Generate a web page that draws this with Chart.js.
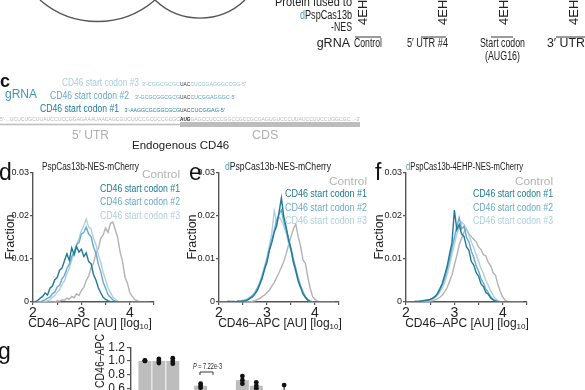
<!DOCTYPE html>
<html>
<head>
<meta charset="utf-8">
<script src="https://cdn.jsdelivr.net/npm/chart.js@4.4.1/dist/chart.umd.min.js"></script>
<style>
  html, body { margin: 0; padding: 0; background: #fff; }
  #fig { position: relative; width: 585px; height: 390px; overflow: hidden; }
  #fig canvas { position: absolute; }
  #art { position: absolute; left: 0; top: 0; }
  .n { font-family: "Liberation Sans Narrow", "Liberation Sans", Arial, sans-serif; }
  .s { font-family: "Liberation Sans", Arial, sans-serif; }
</style>
</head>
<body>
<div id="fig">
  <canvas id="histD" width="166" height="160" style="left:0;top:165px"></canvas>
  <canvas id="histE" width="165" height="160" style="left:186px;top:165px"></canvas>
  <canvas id="histF" width="166" height="160" style="left:373px;top:165px"></canvas>
  <canvas id="barsG" width="230" height="101" style="left:100px;top:338px"></canvas>

  <svg id="art" width="585" height="390" xmlns="http://www.w3.org/2000/svg">
    <!-- leftover circles from the panel above -->
    <path d="M40 0 A87.5 87.5 0 0 0 155 0" fill="none" stroke="#555" stroke-width="1.4"/>
    <path d="M155 0 A65 65 0 0 0 245 0" fill="none" stroke="#555" stroke-width="1.4"/>

    <!-- table header, top right -->
    <g class="n" font-size="12" fill="#222" lengthAdjust="spacingAndGlyphs">
      <text x="352" y="6" text-anchor="end" textLength="77" lengthAdjust="spacingAndGlyphs">Protein fused to</text>
      <text x="352" y="19" text-anchor="end" textLength="52" lengthAdjust="spacingAndGlyphs"><tspan fill="#4ba0c2">d</tspan>PspCas13b</text>
      <text x="352" y="31" text-anchor="end" textLength="21" lengthAdjust="spacingAndGlyphs">-NES</text>
      <text x="354" y="47" textLength="28" lengthAdjust="spacingAndGlyphs">Control</text>
      <text x="407" y="47" textLength="41" lengthAdjust="spacingAndGlyphs">5′ UTR #4</text>
      <text x="480" y="47" textLength="45" lengthAdjust="spacingAndGlyphs">Start codon</text>
      <text x="485" y="60" textLength="35" lengthAdjust="spacingAndGlyphs">(AUG16)</text>
      <text x="547" y="47" textLength="38" lengthAdjust="spacingAndGlyphs">3′ UTR</text>
    </g>
    <g class="s" font-size="13" fill="#222">
      <text transform="translate(367,25) rotate(-90)">4EHP</text>
      <text transform="translate(447,25) rotate(-90)">4EHP</text>
      <text transform="translate(508,25) rotate(-90)">4EHP</text>
      <text transform="translate(578,25) rotate(-90)">4EHP</text>
      <text x="350" y="47" font-size="12.5" text-anchor="end">gRNA</text>
    </g>
    <g stroke="#222" stroke-width="0.9">
      <line x1="355" y1="37" x2="381" y2="37"/>
      <line x1="421" y1="37" x2="446" y2="37"/>
      <line x1="491" y1="37" x2="513" y2="37"/>
      <line x1="556" y1="37" x2="585" y2="37"/>
    </g>

    <!-- panel c -->
    <text class="s" x="0" y="87" font-size="18" font-weight="bold" fill="#111">c</text>
    <text class="s" x="5" y="98" font-size="12" fill="#3d97b8">gRNA</text>
    <text class="n" x="62" y="86" font-size="10.5" fill="#a9cddd" textLength="77" lengthAdjust="spacingAndGlyphs">CD46 start codon #3</text>
    <text class="n" x="50" y="98.5" font-size="10.5" fill="#6aa9c9" textLength="79" lengthAdjust="spacingAndGlyphs">CD46 start codon #2</text>
    <text class="n" x="40" y="111.5" font-size="10.5" fill="#1f7a99" textLength="79" lengthAdjust="spacingAndGlyphs">CD46 start codon #1</text>
    <g class="n" font-size="6">
      <text x="142" y="86" fill="#8fbfd3" textLength="38" lengthAdjust="spacingAndGlyphs">3′-CGGCGCGC</text>
      <text x="180" y="86" fill="#333" textLength="10.4" lengthAdjust="spacingAndGlyphs">UAC</text>
      <text x="190.4" y="86" fill="#8fbfd3" textLength="55.4" lengthAdjust="spacingAndGlyphs">CUCGGAGGGCCGG-5′</text>
      <text x="135" y="98.5" fill="#5a9fc2" textLength="45" lengthAdjust="spacingAndGlyphs">3′-GCGCGGCGCG</text>
      <text x="180" y="98.5" fill="#333" textLength="10.4" lengthAdjust="spacingAndGlyphs">UAC</text>
      <text x="190.4" y="98.5" fill="#5a9fc2" textLength="45" lengthAdjust="spacingAndGlyphs">CUCGGAGGGC-5′</text>
      <text x="124.6" y="111.5" fill="#1f7a99" textLength="55.4" lengthAdjust="spacingAndGlyphs">3′-AAGGCGCGGCGCG</text>
      <text x="180" y="111.5" fill="#333" textLength="10.4" lengthAdjust="spacingAndGlyphs">UAC</text>
      <text x="190.4" y="111.5" fill="#1f7a99" textLength="34.6" lengthAdjust="spacingAndGlyphs">CUCGGAG-5′</text>
      <text x="0" y="121" fill="#b5b5b5" textLength="180" lengthAdjust="spacingAndGlyphs">5′-...UCUCUGCUUAUCCUCCGGAGAAAUAACAGCGUCUUCCGCGCCGCGC</text>
      <text x="180" y="121" fill="#222" font-weight="bold" textLength="10.4" lengthAdjust="spacingAndGlyphs">AUG</text>
      <text x="190.4" y="121" fill="#b5b5b5" textLength="169.6" lengthAdjust="spacingAndGlyphs">GAGCCUCCCGGCCGCCGCGAGUGUCCCUUAUCCUUCCUGGCGC...-3′</text>
    </g>
    <line x1="0" y1="124.5" x2="180" y2="124.5" stroke="#bdbdbd" stroke-width="1.6"/>
    <rect x="180" y="122" width="180" height="5" fill="#bdbdbd"/>
    <text class="s" x="72" y="139" font-size="12" fill="#b0b0b0">5′ UTR</text>
    <text class="s" x="252" y="139" font-size="12.5" fill="#b0b0b0">CDS</text>
    <text class="s" x="132" y="149" font-size="11.5" fill="#222">Endogenous CD46</text>

    <!-- panel letters -->
    <g class="s" font-size="23" fill="#111">
      <text x="-1" y="180">d</text>
      <text x="189" y="180">e</text>
      <text x="375" y="180">f</text>
      <text x="-2" y="359">g</text>
    </g>

    <!-- histogram titles and legends -->
    <g class="n" font-size="10" fill="#222">
      <text x="42" y="170" textLength="97" lengthAdjust="spacingAndGlyphs">PspCas13b-NES-mCherry</text>
      <text x="225" y="170" textLength="106" lengthAdjust="spacingAndGlyphs"><tspan fill="#4ba0c2">d</tspan>PspCas13b-NES-mCherry</text>
      <text x="406" y="170" textLength="117" lengthAdjust="spacingAndGlyphs"><tspan fill="#4ba0c2">d</tspan>PspCas13b-4EHP-NES-mCherry</text>
    </g>
    <g class="n" text-anchor="end">
      <text x="180" y="178" font-size="11.5" fill="#b3b3b3" textLength="38" lengthAdjust="spacingAndGlyphs">Control</text>
      <text x="180" y="192" font-size="10.5" fill="#1f7a99" textLength="80" lengthAdjust="spacingAndGlyphs">CD46 start codon #1</text>
      <text x="180" y="205" font-size="10.5" fill="#6aa9c9" textLength="80" lengthAdjust="spacingAndGlyphs">CD46 start codon #2</text>
      <text x="180" y="219" font-size="10.5" fill="#aed0df" textLength="80" lengthAdjust="spacingAndGlyphs">CD46 start codon #3</text>

      <text x="367" y="185" font-size="11.5" fill="#b3b3b3" textLength="38" lengthAdjust="spacingAndGlyphs">Control</text>
      <text x="367" y="197" font-size="10.5" fill="#1f7a99" textLength="82" lengthAdjust="spacingAndGlyphs">CD46 start codon #1</text>
      <text x="367" y="211" font-size="10.5" fill="#6aa9c9" textLength="82" lengthAdjust="spacingAndGlyphs">CD46 start codon #2</text>
      <text x="367" y="224" font-size="10.5" fill="#aed0df" textLength="82" lengthAdjust="spacingAndGlyphs">CD46 start codon #3</text>

      <text x="553" y="185" font-size="11.5" fill="#b3b3b3" textLength="38" lengthAdjust="spacingAndGlyphs">Control</text>
      <text x="553" y="197" font-size="10.5" fill="#1f7a99" textLength="80" lengthAdjust="spacingAndGlyphs">CD46 start codon #1</text>
      <text x="553" y="211" font-size="10.5" fill="#6aa9c9" textLength="80" lengthAdjust="spacingAndGlyphs">CD46 start codon #2</text>
      <text x="553" y="224" font-size="10.5" fill="#aed0df" textLength="80" lengthAdjust="spacingAndGlyphs">CD46 start codon #3</text>
    </g>

    <!-- axis titles -->
    <g class="s" font-size="12.5" fill="#222" text-anchor="middle">
      <text transform="translate(14,237) rotate(-90)">Fraction</text>
      <text transform="translate(196,237) rotate(-90)">Fraction</text>
      <text transform="translate(383,237) rotate(-90)">Fraction</text>
    </g>
    <g class="s" font-size="12" fill="#222" text-anchor="middle">
      <text x="90" y="327">CD46–APC [AU] [log<tspan font-size="8" dy="2">10</tspan><tspan dy="-2">]</tspan></text>
      <text x="280" y="327">CD46–APC [AU] [log<tspan font-size="8" dy="2">10</tspan><tspan dy="-2">]</tspan></text>
      <text x="467" y="327">CD46–APC [AU] [log<tspan font-size="8" dy="2">10</tspan><tspan dy="-2">]</tspan></text>
    </g>

    <!-- panel g annotations -->
    <text class="n" transform="translate(104,334) rotate(-90)" font-size="12" fill="#222" text-anchor="end" textLength="54" lengthAdjust="spacingAndGlyphs">CD46–APC</text>
    <text class="n" x="193" y="369" font-size="8.5" fill="#222" textLength="29" lengthAdjust="spacingAndGlyphs"><tspan font-style="italic">P</tspan> = 7.22e-3</text>
    <path d="M200 375 V372 H213 V375" fill="none" stroke="#222" stroke-width="0.9"/>
  </svg>
</div>

<script>
// histogram bins, log10 CD46-APC
const xBins = [2.00, 2.05, 2.10, 2.15, 2.20, 2.25, 2.30, 2.35, 2.40, 2.45,
  2.50, 2.55, 2.60, 2.65, 2.70, 2.75, 2.80, 2.85, 2.90, 2.95,
  3.00, 3.05, 3.10, 3.15, 3.20, 3.25, 3.30, 3.35, 3.40, 3.45,
  3.50, 3.55, 3.60, 3.65, 3.70, 3.75, 3.80, 3.85, 3.90, 3.95,
  4.00, 4.05, 4.10, 4.15, 4.20, 4.25, 4.30, 4.35, 4.40];

// d: PspCas13b-NES-mCherry
const dControl = [0, 0, 0, 0, 0, 0, 0, 0, 0, 0,
  .0003, .0002, .0005, .0004, .0009, .0006, .0013, .0010, .0019, .0015,
  .0027, .0034, .0050, .0060, .0080, .0090, .0114, .0124, .0148, .0156,
  .0172, .0162, .0183, .0186, .0168, .0150, .0116, .0094, .0058, .0044,
  .0022, .0013, .0006, .0003, .0001, 0, 0, 0, 0];
const dCodon1 = [0, .0001, .0004, .0009, .0013, .0021, .0016, .0032, .0037, .0052,
  .0057, .0074, .0079, .0096, .0112, .0097, .0126, .0110, .0129, .0116,
  .0123, .0106, .0114, .0094, .0089, .0064, .0051, .0033, .0021, .0011,
  .0006, .0003, .0001, 0, 0, 0, 0, 0, 0, 0,
  0, 0, 0, 0, 0, 0, 0, 0, 0];
const dCodon2 = [0, 0, 0, 0, .0003, .0005, .0009, .0011, .0019, .0023,
  .0035, .0039, .0054, .0062, .0078, .0088, .0106, .0116, .0134, .0138,
  .0158, .0162, .0174, .0158, .0152, .0128, .0114, .0088, .0070, .0046,
  .0032, .0017, .0011, .0005, .0002, 0, 0, 0, 0, 0,
  0, 0, 0, 0, 0, 0, 0, 0, 0];
const dCodon3 = [0, 0, 0, 0, 0, 0, .0003, .0005, .0011, .0015,
  .0023, .0029, .0041, .0049, .0066, .0078, .0098, .0112, .0132, .0148,
  .0166, .0178, .0193, .0174, .0170, .0148, .0134, .0110, .0092, .0068,
  .0052, .0033, .0023, .0011, .0007, .0002, 0, 0, 0, 0,
  0, 0, 0, 0, 0, 0, 0, 0, 0];

// e: dPspCas13b-NES-mCherry
const eControl = [0, 0, 0, 0, 0, 0, 0, 0, 0, 0,
  0, 0, 0, 0, .0002, .0003, .0006, .0008, .0013, .0016,
  .0022, .0027, .0037, .0045, .0057, .0068, .0081, .0094, .0112, .0133,
  .0152, .0170, .0181, .0152, .0130, .0098, .0090, .0058, .0032, .0013,
  .0006, .0002, 0, 0, 0, 0, 0, 0, 0];
const eCodon1 = [0, 0, 0, 0, .0002, 0, .0001, 0, .0002, .0001,
  .0002, .0003, .0005, .0009, .0012, .0019, .0027, .0041, .0055, .0076,
  .0093, .0120, .0138, .0162, .0176, .0208, .0242, .0198, .0174, .0144,
  .0122, .0092, .0072, .0048, .0034, .0019, .0011, .0004, .0001, 0,
  0, 0, 0, 0, 0, 0, 0, 0, 0];
const eCodon2 = [0, 0, 0, 0, .0001, .0002, 0, .0001, .0002, .0002,
  .0003, .0004, .0006, .0010, .0015, .0021, .0031, .0044, .0060, .0080,
  .0098, .0124, .0144, .0166, .0190, .0204, .0214, .0188, .0168, .0148,
  .0126, .0100, .0078, .0056, .0038, .0024, .0012, .0006, .0002, 0,
  0, 0, 0, 0, 0, 0, 0, 0, 0];
const eCodon3 = [0, 0, 0, 0, 0, .0001, .0002, .0001, .0002, .0003,
  .0004, .0005, .0008, .0012, .0016, .0024, .0034, .0046, .0064, .0084,
  .0104, .0132, .0160, .0212, .0184, .0198, .0190, .0176, .0160, .0136,
  .0118, .0094, .0072, .0052, .0034, .0020, .0010, .0005, .0002, 0,
  0, 0, 0, 0, 0, 0, 0, 0, 0];

// f: dPspCas13b-4EHP-NES-mCherry
const fControl = [0, 0, 0, 0, 0, 0, 0, 0, 0, .0001,
  .0002, .0003, .0005, .0007, .0011, .0016, .0024, .0033, .0048, .0063,
  .0086, .0108, .0133, .0148, .0163, .0170, .0158, .0152, .0146, .0140,
  .0128, .0122, .0110, .0107, .0092, .0084, .0068, .0062, .0040, .0024,
  .0011, .0004, .0001, 0, 0, 0, 0, 0, 0];
const fCodon1 = [0, 0, 0, 0, .0002, .0001, .0002, .0003, .0004, .0004,
  .0006, .0009, .0013, .0020, .0031, .0043, .0063, .0083, .0112, .0138,
  .0214, .0168, .0180, .0158, .0152, .0128, .0120, .0094, .0086, .0068,
  .0060, .0042, .0036, .0022, .0018, .0009, .0005, .0002, 0, 0,
  0, 0, 0, 0, 0, 0, 0, 0, 0];
const fCodon2 = [0, 0, 0, 0, .0001, .0002, .0002, .0003, .0003, .0004,
  .0006, .0008, .0012, .0018, .0028, .0040, .0056, .0076, .0100, .0126,
  .0150, .0176, .0196, .0170, .0176, .0150, .0140, .0118, .0104, .0084,
  .0072, .0054, .0044, .0030, .0022, .0012, .0007, .0003, .0001, 0,
  0, 0, 0, 0, 0, 0, 0, 0, 0];
const fCodon3 = [0, 0, 0, 0, 0, .0001, .0002, .0002, .0003, .0004,
  .0005, .0007, .0010, .0015, .0023, .0033, .0046, .0064, .0086, .0110,
  .0134, .0158, .0172, .0186, .0180, .0168, .0156, .0140, .0126, .0110,
  .0094, .0078, .0066, .0050, .0038, .0026, .0016, .0008, .0003, .0001,
  0, 0, 0, 0, 0, 0, 0, 0, 0];

// g: normalised CD46-APC, bar means and replicates ('' = gap between groups)
const gLabels = ["", "A1", "A2", "A3", "", "B1", "B2", "B3", "C1", "C2", "C3", "D1", "D2", "D3"];
const gMeans = [null, 1.00, 1.00, 1.00, null, 0.64, 0.45, 0.42, 0.72, 0.64, 0.50, 0.52, 0.48, 0.46];
const gRep1 = [null, 1.00, 0.97, 0.96, null, 0.61, 0.43, 0.40, 0.67, 0.60, 0.47, 0.45, 0.45, 0.44];
const gRep2 = [null, 1.00, 1.00, 1.00, null, 0.64, 0.45, 0.42, 0.72, 0.64, 0.50, 0.50, 0.48, 0.46];
const gRep3 = [null, 1.01, 1.03, 1.04, null, 0.67, 0.47, 0.44, 0.78, 0.69, 0.53, 0.65, 0.51, 0.48];

const seriesColors = ["#b3b3b3", "#1f7a99", "#6aa9c9", "#aed0df"];
const axisColor = "#555";

Chart.defaults.font.family = '"Liberation Sans", Arial, sans-serif';

const makeHist = (id, seriesList) => {
  new Chart(document.getElementById(id), {
    type: "line",
    data: {
      datasets: seriesList.map((values, i) => ({
        data: xBins.map((x, j) => ({ x: x, y: values[j] })),
        borderColor: seriesColors[i],
        borderWidth: 1.4,
        pointRadius: 0,
        tension: 0,
        fill: false,
        order: i === 0 ? 4 : i,
      })),
    },
    options: {
      responsive: false,
      animation: false,
      layout: { padding: { top: 8, right: 12, bottom: 3, left: 0 } },
      plugins: { legend: { display: false }, tooltip: { enabled: false } },
      scales: {
        x: {
          type: "linear",
          min: 2,
          max: 4.5,
          ticks: {
            stepSize: 0.5,
            autoSkip: false,
            maxRotation: 0,
            padding: 0,
            color: "#222",
            font: { size: 14 },
            callback: (v) => (Number.isInteger(v) ? v : ""),
          },
          grid: { drawOnChartArea: false, tickLength: 3, color: axisColor, lineWidth: 1.2 },
          border: { color: axisColor, width: 1.4 },
          afterFit: (s) => {
            s.height = 20;
          },
        },
        y: {
          min: 0,
          max: 0.03,
          ticks: {
            stepSize: 0.01,
            autoSkip: false,
            padding: 1,
            color: "#222",
            font: { size: 9 },
            callback: (v) => (v === 0 ? "0" : v.toFixed(2)),
          },
          grid: { drawOnChartArea: false, tickLength: 3, color: axisColor, lineWidth: 1.2 },
          border: { color: axisColor, width: 1.4 },
          afterFit: (s) => {
            s.width = 33;
          },
        },
      },
    },
  });
};

makeHist("histD", [dControl, dCodon1, dCodon2, dCodon3]);
makeHist("histE", [eControl, eCodon1, eCodon2, eCodon3]);
makeHist("histF", [fControl, fCodon1, fCodon2, fCodon3]);

// vertical line through the replicate dots of each bar
const repLines = {
  id: "repLines",
  afterDatasetDraw(chart, args) {
    if (args.index !== 0) return;
    const { ctx, scales } = chart;
    ctx.save();
    ctx.strokeStyle = "#111";
    ctx.lineWidth = 1;
    gLabels.forEach((lab, i) => {
      if (gRep1[i] == null) return;
      const reps = [gRep1[i], gRep2[i], gRep3[i]];
      const x = scales.x.getPixelForValue(i);
      ctx.beginPath();
      ctx.moveTo(x, scales.y.getPixelForValue(Math.min(...reps)));
      ctx.lineTo(x, scales.y.getPixelForValue(Math.max(...reps)));
      ctx.stroke();
    });
    ctx.restore();
  },
};

const repDots = (values) => ({
  type: "line",
  data: values,
  showLine: false,
  pointRadius: 2.4,
  pointBackgroundColor: "#111",
  pointBorderWidth: 0,
  order: 1,
});

new Chart(document.getElementById("barsG"), {
  type: "bar",
  data: {
    labels: gLabels,
    datasets: [
      {
        type: "bar",
        data: gMeans,
        backgroundColor: "#bdbdbd",
        categoryPercentage: 1,
        barPercentage: 0.93,
        order: 2,
      },
      repDots(gRep1),
      repDots(gRep2),
      repDots(gRep3),
    ],
  },
  options: {
    responsive: false,
    animation: false,
    layout: { padding: { top: 8, right: 18, bottom: 0, left: 0 } },
    plugins: { legend: { display: false }, tooltip: { enabled: false } },
    scales: {
      x: { display: false, offset: false },
      y: {
        min: 0,
        max: 1.2,
        ticks: {
          stepSize: 0.2,
          autoSkip: false,
          padding: 2,
          color: "#222",
          font: { size: 12 },
          callback: (v) => v.toFixed(1),
        },
        grid: { drawOnChartArea: false, tickLength: 4, color: axisColor, lineWidth: 1.2 },
        border: { color: axisColor, width: 1.4 },
        afterFit: (s) => {
          s.width = 31;
        },
      },
    },
  },
  plugins: [repLines],
});
</script>
</body>
</html>
